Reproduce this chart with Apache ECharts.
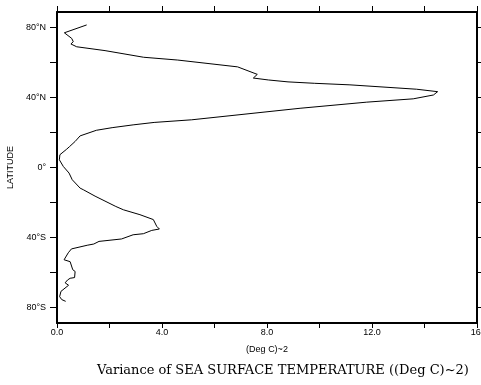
<!DOCTYPE html>
<html>
<head>
<meta charset="utf-8">
<script src="https://cdn.jsdelivr.net/npm/echarts@6/dist/echarts.min.js"></script>
<style>
html,body{margin:0;padding:0;background:#fff;}
#chart{width:481px;height:385px;}
</style>
</head>
<body>
<div id="chart"></div>
<script>
// Latitude (degrees, + = North) and variance of SST ((Deg C)^2), north to south
var latitudes = [81.6, 77.1, 73.9, 72.0, 70.7, 69.1, 66.9, 63.1, 61.5, 57.6,
  53.3, 51.2, 50.1, 49.0, 48.2, 47.3, 44.8, 43.4, 41.5, 39.3,
  37.4, 33.9, 27.3, 25.8, 24.4, 22.8, 21.3, 18.1, 14.9, 12.0,
  10.5, 7.3, 4.4, 0.6, -3.2, -7.0, -11.8, -12.7, -16.4, -22.3,
  -24.2, -27.0, -29.8, -33.7, -35.2, -36.0, -37.9, -38.5, -40.9, -42.3,
  -43.8, -44.5, -46.6, -48.8, -52.8, -53.9, -58.5, -59.5, -63.0, -63.4,
  -64.4, -66.0, -67.4, -70.9, -73.9, -75.6, -76.6];
var variance = [1.13, 0.28, 0.56, 0.62, 0.53, 0.75, 1.83, 3.30, 4.60, 6.88,
  7.63, 7.48, 8.05, 8.80, 9.80, 11.16, 13.70, 14.50, 14.34, 13.57,
  11.80, 9.26, 5.13, 3.70, 2.90, 2.10, 1.50, 0.88, 0.69, 0.48,
  0.37, 0.11, 0.09, 0.24, 0.46, 0.58, 0.88, 1.00, 1.45, 2.24,
  2.53, 3.16, 3.67, 3.80, 3.90, 3.61, 3.29, 2.90, 2.46, 1.60,
  1.40, 1.15, 0.55, 0.43, 0.27, 0.50, 0.60, 0.69, 0.67, 0.50,
  0.40, 0.31, 0.44, 0.15, 0.10, 0.18, 0.33];
var latTicks = [-80, -60, -40, -20, 0, 20, 40, 60, 80];
var latLabels = [-80, -40, 0, 40, 80];
var xLabelValues = [0, 4, 8, 12, 16];
var xLabelTexts = ['0.0', '4.0', '8.0', '12.0', '16.'];

var pts = [];
for (var i = 0; i < latitudes.length; i++) pts.push([variance[i], latitudes[i]]);

function latFmt(v) {
  if (v === 0) return '0\u00b0';
  return Math.abs(v) + '\u00b0' + (v > 0 ? 'N' : 'S');
}

var FONT = 'Liberation Sans';
var chart = echarts.init(document.getElementById('chart'), null, {renderer: 'canvas'});
var axisLine = {show: true, onZero: false, lineStyle: {color: '#000', width: 2}};
chart.setOption({
  animation: false,
  backgroundColor: '#fff',
  grid: {left: 57, right: 4, top: 12, bottom: 62, containLabel: false, outerBoundsMode: 'none'},
  title: {
    text: 'Variance of SEA SURFACE TEMPERATURE ((Deg C)~2)',
    left: 97, top: 364,
    padding: 0,
    textStyle: {fontFamily: 'DejaVu Serif', fontSize: 13, fontWeight: 'normal', color: '#000'}
  },
  xAxis: [{
    type: 'value', position: 'bottom', min: 0, max: 16, interval: 2,
    axisLine: axisLine,
    axisTick: {show: true, inside: false, length: 5, lineStyle: {color: '#000', width: 1}},
    axisLabel: {
      show: true, margin: 5, color: '#000', fontFamily: FONT, fontSize: 9,
      customValues: xLabelValues,
      formatter: function (v) { var k = xLabelValues.indexOf(v); return k >= 0 ? xLabelTexts[k] : ''; }
    },
    splitLine: {show: false},
    name: '(Deg C)~2', nameLocation: 'middle', nameGap: 22,
    nameTextStyle: {color: '#000', fontFamily: FONT, fontSize: 9}
  }, {
    type: 'value', position: 'top', min: 0, max: 16, interval: 2,
    axisLine: axisLine,
    axisTick: {show: true, inside: false, length: 6, lineStyle: {color: '#000', width: 1}},
    axisLabel: {show: false},
    splitLine: {show: false}
  }],
  yAxis: [{
    type: 'value', position: 'left', min: -89, max: 89,
    axisLine: axisLine,
    axisTick: {show: true, inside: false, length: 7, customValues: latTicks, lineStyle: {color: '#000', width: 1}},
    axisLabel: {show: true, margin: 11, color: '#000', fontFamily: FONT, fontSize: 9,
      customValues: latLabels, formatter: latFmt},
    splitLine: {show: false},
    name: 'LATITUDE', nameLocation: 'middle', nameGap: 36, nameRotate: 90,
    nameTextStyle: {color: '#000', fontFamily: FONT, fontSize: 9}
  }, {
    type: 'value', position: 'right', min: -89, max: 89,
    axisLine: axisLine,
    axisTick: {show: true, inside: false, length: 6, customValues: latTicks, lineStyle: {color: '#000', width: 1}},
    axisLabel: {show: false},
    splitLine: {show: false}
  }],
  series: [{
    type: 'line',
    xAxisIndex: 0, yAxisIndex: 0,
    data: pts,
    showSymbol: false,
    symbol: 'none',
    clip: false,
    lineStyle: {color: '#000', width: 1},
    silent: true
  }]
});
</script>
</body>
</html>
